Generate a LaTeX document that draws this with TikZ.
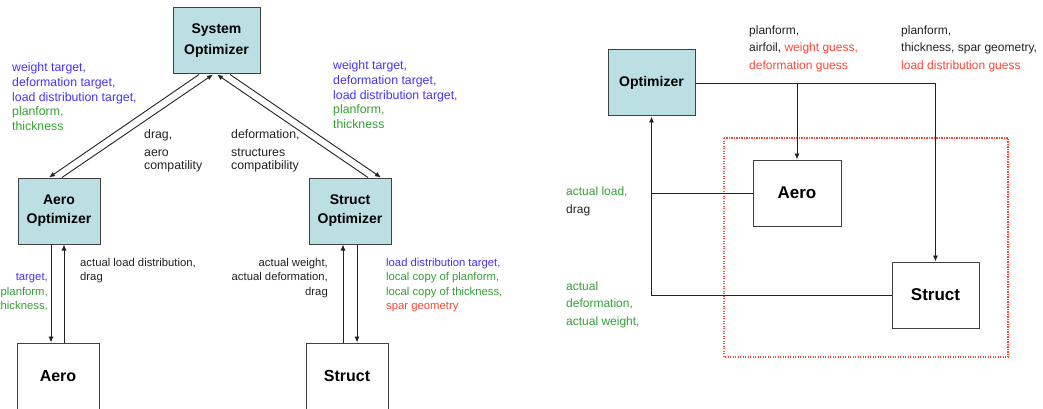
\documentclass[tikz,border=0pt]{standalone}
\usepackage{fontspec}
\setmainfont{Liberation Sans}
\usetikzlibrary{arrows.meta,calc}
\definecolor{cblue}{HTML}{4433FF}
\definecolor{cgreen}{HTML}{33A033}
\definecolor{cred}{HTML}{FF4433}
\definecolor{ctext}{HTML}{222222}
\definecolor{cfill}{HTML}{BBDFE2}
\definecolor{cborder}{HTML}{404040}
\begin{document}
\begin{tikzpicture}[x=1pt,y=-1pt,
  box/.style={draw=cborder,line width=1pt,inner sep=0pt,align=center,text=black},
  optbox/.style={box,fill=cfill,font=\bfseries\fontsize{14}{19}\selectfont},
  plainbox/.style={box,fill=white,font=\bfseries\fontsize{16}{20}\selectfont},
  rplainbox/.style={box,fill=white,font=\bfseries\fontsize{17}{20}\selectfont},
  lbl/.style={inner sep=0pt,anchor=base west,align=left,text=ctext,font=\fontsize{11.3}{14.6}\selectfont},
  toplbl/.style={lbl,font=\fontsize{12.3}{14.6}\selectfont},
  rlbl/.style={lbl,anchor=base east,align=right},
  big/.style={lbl,font=\fontsize{12}{17.5}\selectfont},
  arr/.style={draw=ctext,line width=0.9pt,-{Latex[length=6pt,width=5pt]}},
  wire/.style={draw=ctext,line width=0.9pt},
  redbox/.style={draw=cred,line width=1.3pt,dash pattern=on 1.3pt off 1.2pt}]
\useasboundingbox (0,0) rectangle (1043,409);
% ---------- left diagram ----------
\node[optbox,minimum width=87,minimum height=66,font=\bfseries\fontsize{14}{21}\selectfont] (sys) at (216.5,41) {System\\Optimizer};
\node[optbox,minimum width=82,minimum height=66] (aopt) at (59,211) {Aero\\Optimizer};
\node[optbox,minimum width=82,minimum height=66] (sopt) at (350,211) {Struct\\Optimizer};
\node[plainbox,minimum width=82,minimum height=66] (aero) at (58,376) {Aero};
\node[plainbox,minimum width=82,minimum height=66] (str) at (347,376) {Struct};

\draw[arr] ([xshift=-17.5pt]sys.south) -- ([xshift=-10pt]aopt.north);
\draw[arr] ([xshift=3pt]aopt.north) -- ([xshift=-3.5pt]sys.south);
\draw[arr] ([xshift=13.5pt]sys.south) -- ([xshift=31pt]sopt.north);
\draw[arr] ([xshift=18pt]sopt.north) -- ([xshift=0.5pt]sys.south);

\draw[arr] ([xshift=-8pt]aopt.south) -- ([xshift=-8pt]aopt.south |- aero.north);
\draw[arr] ([xshift=6pt]aero.north) -- ([xshift=6pt]aero.north |- aopt.south);
\draw[arr] ([xshift=-4pt]str.north) -- ([xshift=-4pt]str.north |- sopt.south);
\draw[arr] ([xshift=7pt]sopt.south) -- ([xshift=7pt]sopt.south |- str.north);

\node[toplbl] (la) at (12,130.4) {\textcolor{cblue}{weight target,}\\\textcolor{cblue}{deformation target,}\\\textcolor{cblue}{load distribution target,}\\\textcolor{cgreen}{planform,}\\\textcolor{cgreen}{thickness}};
\node[toplbl] (ldrag) at (144,138) {drag,};
\node[toplbl,font=\fontsize{12.3}{12.3}\selectfont] (laero) at (144,169) {aero\\compatility};
\node[toplbl] (ldef) at (231,138) {deformation,};
\node[toplbl,font=\fontsize{12.3}{12.3}\selectfont] (lstruc) at (231,169) {structures\\compatibility};
\node[toplbl] (lb) at (333,128.4) {\textcolor{cblue}{weight target,}\\\textcolor{cblue}{deformation target,}\\\textcolor{cblue}{load distribution target,}\\\textcolor{cgreen}{planform,}\\\textcolor{cgreen}{thickness}};
\node[rlbl] (lc) at (48,309.9) {\textcolor{cblue}{target,}\\\textcolor{cgreen}{planform,}\\\textcolor{cgreen}{thickness,}};
\node[lbl] (ld) at (80,280.6) {actual load distribution,\\drag};
\node[rlbl] (le) at (328,295.2) {actual weight,\\actual deformation,\\drag};
\node[lbl] (lf) at (386,309.8) {\textcolor{cblue}{load distribution target,}\\\textcolor{cgreen}{local copy of planform,}\\\textcolor{cgreen}{local copy of thickness,}\\\textcolor{cred}{spar geometry}};

% ---------- right diagram ----------
\draw[redbox] (724,138) rectangle (1008,357);
\node[optbox,minimum width=87,minimum height=66] (ropt) at (651.5,83) {Optimizer};
\node[rplainbox,minimum width=88,minimum height=66] (raero) at (797,193) {Aero};
\node[rplainbox,minimum width=87,minimum height=66] (rstr) at (935.5,295) {Struct};

\draw[arr] (ropt.east) -- (rstr.north |- ropt.east) -- (rstr.north);
\draw[arr] (raero.north |- ropt.east) -- (raero.north);
\draw[arr] (raero.west) -- (ropt.south |- raero.west) -- (ropt.south);
\draw[wire] (rstr.west) -- (ropt.south |- rstr.west) -- (ropt.south |- raero.west);

\node[big] (lg) at (749,69.1) {planform,\\airfoil, \textcolor{cred}{weight guess,}\\\textcolor{cred}{deformation guess}};
\node[big] (lh) at (901,69.1) {planform,\\thickness, spar geometry,\\\textcolor{cred}{load distribution guess}};
\node[big,font=\fontsize{12}{18.5}\selectfont] (li) at (566,213.5) {\textcolor{cgreen}{actual load,}\\drag};
\node[big] (lj) at (566,325) {\textcolor{cgreen}{actual}\\\textcolor{cgreen}{deformation,}\\\textcolor{cgreen}{actual weight,}};
\end{tikzpicture}
\end{document}
